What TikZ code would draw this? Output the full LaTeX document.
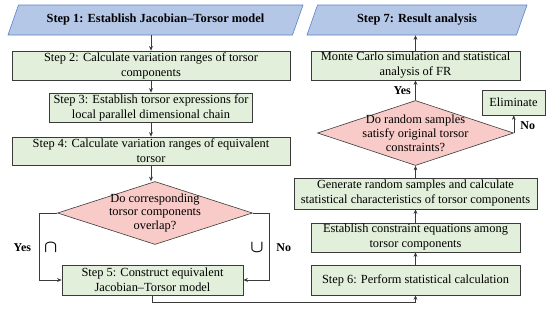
\documentclass[tikz,border=0pt]{standalone}
\usepackage{amsmath}
\usepackage{fontspec}
\setmainfont{Liberation Serif}
\usetikzlibrary{arrows.meta,shapes.geometric}
\definecolor{verdeC}{HTML}{E2EFDA}
\definecolor{rosaD}{HTML}{F8CBC8}
\definecolor{azulT}{HTML}{B4C7E7}
\definecolor{azulB}{HTML}{5B82C8}
\definecolor{grisL}{HTML}{3A3A3A}

\begin{document}
\begin{tikzpicture}[x=1pt,y=-1pt,>={Stealth[length=4.5pt,width=3.8pt]},
    font=\fontsize{12.4}{15}\selectfont,
    stepbox/.style={draw=grisL,fill=verdeC,line width=0.7pt,align=center,
                    inner sep=0pt},
    decision/.style={draw=grisL,fill=rosaD,line width=0.6pt,shape=diamond,
                     align=center,inner xsep=-14pt,inner ysep=-6pt,aspect=3.1,
                     font=\fontsize{12.4}{13.8}\selectfont},
    terminal/.style={draw=azulB,fill=azulT,line width=0.6pt,shape=trapezium,
                     trapezium left angle=47,trapezium right angle=133,
                     trapezium stretches body,inner sep=0pt,
                     font=\fontsize{12.4}{15}\selectfont\bfseries},
    lbl/.style={font=\fontsize{12}{14}\selectfont\bfseries},
    setop/.style={font=\fontsize{18}{18}\selectfont,inner sep=0pt},
    flow/.style={->,draw=grisL,line width=0.6pt}]
  \useasboundingbox (0,0) rectangle (550,316);
  % left column
  \node[terminal,minimum width=295,minimum height=30] (s1) at (155.5,20)
    {Step 1: Establish Jacobian--Torsor model};
  \node[stepbox,minimum width=278,minimum height=29] (s2) at (151,65.5)
    {Step 2: Calculate variation ranges of torsor\\components};
  \node[stepbox,minimum width=203,minimum height=29] (s3) at (151,107.5)
    {Step 3: Establish torsor expressions for\\local parallel dimensional chain};
  \node[stepbox,minimum width=278,minimum height=28] (s4) at (151,151)
    {Step 4: Calculate variation ranges of equivalent\\torsor};
  \node[decision,minimum width=195,minimum height=63] (d1) at (155,213)
    {Do corresponding\\torsor components\\overlap?};
  \node[stepbox,minimum width=181,minimum height=30] (s5) at (152.5,280)
    {Step 5: Construct equivalent\\Jacobian--Torsor model};
  % right column
  \node[terminal,minimum width=220,minimum height=30] (s7) at (417,20)
    {Step 7: Result analysis};
  \node[stepbox,minimum width=209,minimum height=29] (mc) at (415.5,65.5)
    {Monte Carlo simulation and statistical\\analysis of FR};
  \node[decision,minimum width=196,minimum height=65] (d2) at (415.5,133)
    {Do random samples\\satisfy original torsor\\constraints?};
  \node[stepbox,minimum width=63,minimum height=25] (el) at (513.5,102.5)
    {Eliminate};
  \node[stepbox,minimum width=243,minimum height=31] (gen) at (415.5,193.5)
    {Generate random samples and calculate\\statistical characteristics of torsor components};
  \node[stepbox,minimum width=209,minimum height=29] (con) at (415.5,237.5)
    {Establish constraint equations among\\torsor components};
  \node[stepbox,minimum width=209,minimum height=30] (s6) at (415.5,280)
    {Step 6: Perform statistical calculation};
  % connectors
  \draw[flow] (s1.south -| s2.north) -- (s2.north);
  \draw[flow] (s2) -- (s3);
  \draw[flow] (s3) -- (s4);
  \draw[flow] (s4.south) -- (s4.south |- d1.north);
  \draw[flow] (d1.west) -- ++(-17.5,0) |- (s5.west)
    node[pos=0.26,left=5pt,lbl]{Yes}
    node[pos=0.26,right=4pt,setop]{$\boldsymbol{\cap}$};
  \draw[flow] (d1.east) -- ++(16,0) |- (s5.east)
    node[pos=0.26,right=4pt,lbl]{No}
    node[pos=0.26,left=5pt,setop]{$\boldsymbol{\cup}$};
  \draw[flow] (s5.south) -- ++(0,7) -| (s6.south);
  \draw[flow] (s6) -- (con);
  \draw[flow] (con) -- (gen);
  \draw[flow] (gen) -- (d2);
  \draw[flow] (d2) -- (mc)
    node[midway,left=1pt,lbl]{Yes};
  \draw[flow] (d2.east) -- (d2.east |- el.south)
    node[pos=0.4,right=3pt,lbl]{No};
  \draw[flow] (mc) -- (mc.north |- s7.south);
\end{tikzpicture}
\end{document}
